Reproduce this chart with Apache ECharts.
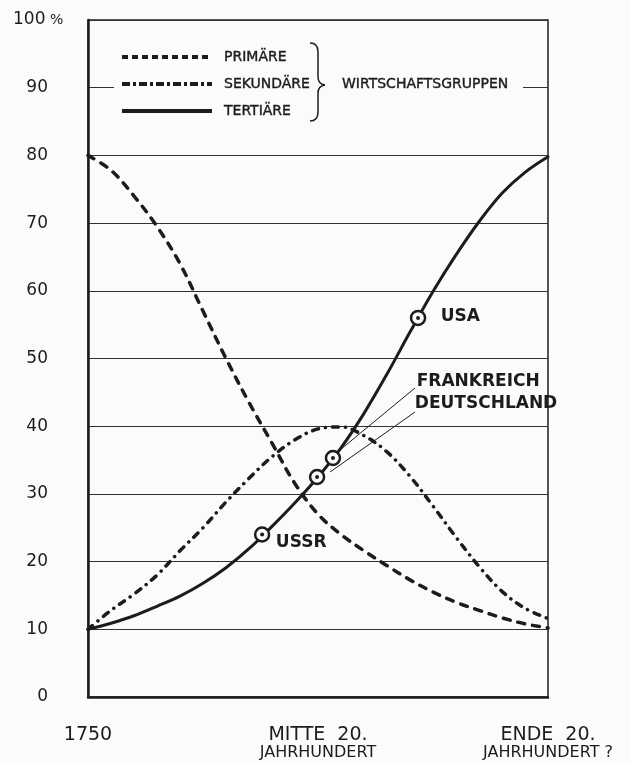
<!DOCTYPE html>
<html>
<head>
<meta charset="utf-8">
<script src="https://cdn.jsdelivr.net/npm/echarts@6/dist/echarts.min.js"></script>
<style>html,body{margin:0;padding:0;background:#fbfbfa;}#c{width:630px;height:763px;}</style>
</head>
<body>
<div id="c"></div>
<script>
// positions along the time axis (0 = 1750, 1 = Mitte 20. Jh., 2 = Ende 20. Jh.)
const xPos = [0,0.1,0.2,0.3,0.4,0.5,0.6,0.7,0.8,0.9,1.0,1.1,1.2,1.3,1.4,1.5,1.6,1.7,1.8,1.9,2.0];
const xTickLabels = ['1750', 'MITTE  20.\nJAHRHUNDERT', 'ENDE  20.\nJAHRHUNDERT ?'];
const yTicks = [0,10,20,30,40,50,60,70,80,90,100];
// shares in percent
const primaer   = [80,77.8,74,69.5,64,57,50,43.5,37.5,31.5,27,24,21.6,19.4,17.3,15.5,14,12.8,11.7,10.8,10.2];
const sekundaer = [10,12.8,15.2,18,21.6,25,28.8,32.3,35.5,38,39.6,39.9,38.6,36.2,32.6,28.2,23.6,19.3,15.6,13.1,11.6];
const tertiaer  = [10,10.9,12,13.4,14.9,16.8,19.1,21.9,25.2,28.7,32.5,36.8,41.9,47.7,53.9,59.9,65.3,70.2,74.4,77.5,79.8];
// country points on the tertiary curve
const countries = ['USSR', 'DEUTSCHLAND', 'FRANKREICH', 'USA'];
const countryX  = [0.757, 0.996, 1.065, 1.435];
const countryY  = [24, 32.5, 35.3, 56];
const legendNames = ['PRIMÄRE', 'SEKUNDÄRE', 'TERTIÄRE'];
const groupLabel = 'WIRTSCHAFTSGRUPPEN';

const INK = '#1c1c1c';
const BG = '#fbfbfa';
const FONT = '"DejaVu Sans", sans-serif';
const zip = (xs, ys) => xs.map((x, i) => [x, ys[i]]);
const labelPos = {
  'USSR': [22, 16],
  'DEUTSCHLAND': [106, -65],
  'FRANKREICH': [92, -68],
  'USA': [31, 7]
};
const pts = countries.map((n, i) => ({ name: n, value: [countryX[i], countryY[i]], label: { position: labelPos[n] } }));

const chart = echarts.init(document.getElementById('c'), null, { renderer: 'canvas' });
const option = {
  backgroundColor: BG,
  animation: false,
  grid: { left: 88, right: 82, top: 20, bottom: 66, show: true, borderColor: INK, borderWidth: 1.5, backgroundColor: 'transparent' },
  xAxis: {
    type: 'value', min: 0, max: 2, interval: 1,
    axisLine: { show: true, lineStyle: { color: INK, width: 2.5 } },
    axisTick: { show: false },
    splitLine: { show: false },
    axisLabel: {
      margin: 29, color: INK, fontFamily: FONT, lineHeight: 18,
      formatter: v => {
        const t = xTickLabels[Math.round(v)].split('\n');
        return t.length > 1 ? '{a|' + t[0] + '}\n{b|' + t[1] + '}' : '{a|' + t[0] + '}';
      },
      rich: {
        a: { fontSize: 19, fontFamily: FONT, color: INK, lineHeight: 18 },
        b: { fontSize: 16, fontFamily: FONT, color: INK, lineHeight: 17 }
      }
    }
  },
  yAxis: {
    type: 'value', min: 0, max: 100, interval: 10,
    axisLine: { show: true, lineStyle: { color: INK, width: 2.5 } },
    axisTick: { show: false },
    splitLine: { show: true, lineStyle: { color: '#333', width: 1.2 } },
    axisLabel: { margin: 40, color: INK, fontSize: 17, fontFamily: FONT,
      formatter: v => (yTicks.includes(v) && v !== 100) ? String(v) : '' }
  },
  series: [
    { name: legendNames[0], type: 'line', data: zip(xPos, primaer), smooth: 0.35, symbol: 'none', z: 3,
      lineStyle: { color: INK, width: 3.5, type: [7, 8], cap: 'round' } },
    { name: legendNames[1], type: 'line', data: zip(xPos, sekundaer), smooth: 0.35, symbol: 'none', z: 3,
      lineStyle: { color: INK, width: 3.5, type: [6, 7, 0.1, 7], cap: 'round' } },
    { name: legendNames[2], type: 'line', data: zip(xPos, tertiaer), smooth: 0.35, symbol: 'none', z: 3,
      lineStyle: { color: INK, width: 3, cap: 'round' } },
    { type: 'scatter', data: pts, symbol: 'circle', symbolSize: 14, z: 5,
      itemStyle: { color: BG, borderColor: INK, borderWidth: 2.5, opacity: 1 },
      label: { show: true, color: INK, fontFamily: FONT, fontWeight: 'bold', fontSize: 17,
        align: 'left', verticalAlign: 'middle', opacity: 1,
        formatter: p => p.name }
    },
    { type: 'scatter', data: pts.map(p => p.value), symbol: 'circle', symbolSize: 4, z: 6, silent: true,
      itemStyle: { color: INK, opacity: 1 } }
  ]
};
chart.setOption(option);

// legend and annotation graphics derived from the axes
const px = (x, y) => chart.convertToPixel({ gridIndex: 0 }, [x, y]);
const txt = (x, y, text, extra) => ({ type: 'text', z: 10, x: x, y: y,
  style: Object.assign({ text: text, font: '14px ' + FONT, fill: INK, align: 'left', verticalAlign: 'middle',
    textAlign: 'left', textVerticalAlign: 'middle', stroke: INK, lineWidth: 0.4 }, extra || {}) });
const g = [];
const p90L = px(0, 90), p90R = px(2, 90);
// gap in the 90 % grid line where the legend sits
g.push({ type: 'rect', z: 1, shape: { x: p90L[0] + 26, y: p90L[1] - 3, width: (p90R[0] - p90L[0]) - 51, height: 6 }, style: { fill: BG } });
const legY = [57, 84, 111];
const legDash = [[6, 4], [8, 3, 3, 3], null];
legendNames.forEach((n, i) => {
  g.push({ type: 'line', z: 10, shape: { x1: 122, y1: legY[i], x2: 212, y2: legY[i] },
    style: { stroke: INK, lineWidth: 4, lineDash: legDash[i] } });
  g.push(txt(224, legY[i], n));
});
// brace
const braceStyle = { fill: null, stroke: INK, lineWidth: 1.5 };
g.push({ type: 'bezierCurve', z: 10, shape: { x1: 310, y1: 43, x2: 318, y2: 52, cpx1: 318, cpy1: 43 }, style: braceStyle });
g.push({ type: 'line', z: 10, shape: { x1: 318, y1: 52, x2: 318, y2: 77 }, style: braceStyle });
g.push({ type: 'bezierCurve', z: 10, shape: { x1: 318, y1: 77, x2: 325, y2: 85, cpx1: 318, cpy1: 84 }, style: braceStyle });
g.push({ type: 'bezierCurve', z: 10, shape: { x1: 325, y1: 85, x2: 318, y2: 93, cpx1: 318, cpy1: 86 }, style: braceStyle });
g.push({ type: 'line', z: 10, shape: { x1: 318, y1: 93, x2: 318, y2: 112 }, style: braceStyle });
g.push({ type: 'bezierCurve', z: 10, shape: { x1: 318, y1: 112, x2: 310, y2: 121, cpx1: 318, cpy1: 121 }, style: braceStyle });
g.push(txt(342, 84, groupLabel));
// "100 %" label at the top of the value axis
const p100 = px(0, 100);
g.push(txt(p100[0] - 75, p100[1], '{a|100} {b|%}', { stroke: null, lineWidth: 0,
  rich: { a: { fontSize: 17, fontFamily: FONT, fill: INK }, b: { fontSize: 14, fontFamily: FONT, fill: INK } } }));
// leader lines for Frankreich / Deutschland
const fr = px(countryX[2], countryY[2]);
const de = px(countryX[1], countryY[1]);
g.push({ type: 'line', z: 10, shape: { x1: fr[0] + 82, y1: fr[1] - 70, x2: fr[0] + 7, y2: fr[1] - 8 }, style: { stroke: INK, lineWidth: 1 } });
g.push({ type: 'line', z: 10, shape: { x1: de[0] + 98, y1: de[1] - 65, x2: de[0] + 13, y2: de[1] - 5 }, style: { stroke: INK, lineWidth: 1 } });
chart.setOption({ graphic: g });
</script>
</body>
</html>
